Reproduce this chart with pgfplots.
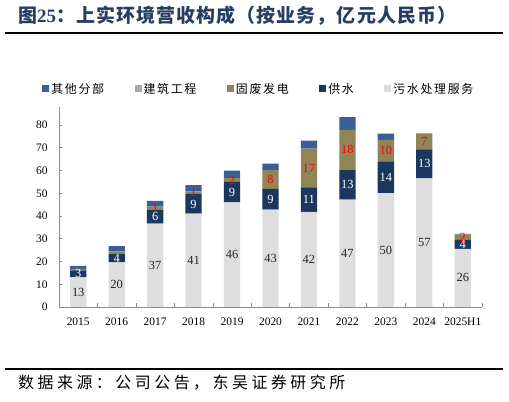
\documentclass[border=0pt]{standalone}
\usepackage{fontspec}
\setmainfont{Liberation Serif}
\newfontfamily\cjkleg[LetterSpace=14]{Noto Sans CJK SC}
\newfontfamily\cjksrc[LetterSpace=22]{Noto Sans CJK SC}
\newfontfamily\cjktitle[LetterSpace=6]{Noto Sans CJK SC}
\usepackage{pgfplots}
\usepackage{pgfplotstable}
\pgfplotsset{compat=1.18}
\definecolor{csew}{RGB}{222,222,222}
\definecolor{cwat}{RGB}{27,55,94}
\definecolor{csol}{RGB}{143,133,86}
\definecolor{ccon}{RGB}{170,170,170}
\definecolor{coth}{RGB}{58,95,150}
\definecolor{ctitle}{RGB}{36,62,100}
\definecolor{caxis}{RGB}{140,140,140}
\pgfplotstableread{
x sew wat sol con oth lsew lwat lsol
0 13.0 3.1 0.6 0 1.4 13 3 {}
1 19.6 3.9 1.0 0 2.3 20 4 {}
2 36.6 6.2 1.3 0 2.5 37 6 1
3 41.0 8.6 1.2 0 2.8 41 9 1
4 46.0 9.0 1.7 0 3.2 46 9 2
5 42.8 9.1 8.3 0 2.8 43 9 8
6 41.8 10.8 17.0 0 3.5 42 11 17
7 47.2 13.2 17.5 0 5.6 47 13 18
8 50.1 13.9 9.5 0 2.7 50 14 10
9 56.5 12.8 7.0 0 0 57 13 7
10 25.6 3.9 2.4 0 0.2 26 4 2
}\datatable
\begin{document}
\begin{tikzpicture}
\useasboundingbox (0,0) rectangle (509bp,402bp);
\node[anchor=west, inner sep=0, text=ctitle, font=\cjktitle\bfseries\fontsize{19}{21}\selectfont] at (18bp,386bp) {图{\rmfamily\bfseries 25}：上实环境营收构成（按业务，亿元人民币）};
\draw[line width=1.8bp] (5bp,369bp) -- (503bp,369bp);
\draw[line width=1.6bp] (5bp,33bp) -- (503bp,33bp);
\node[anchor=west, inner sep=0, font=\cjksrc\fontsize{16}{18}\selectfont] at (18bp,19bp) {数据来源：公司公告，东吴证券研究所};
\begin{axis}[
  at={(59bp,95bp)}, anchor=south west,
  scale only axis, width=423bp, height=200.2bp,
  ybar stacked, bar width=16.3bp,
  xmin=-0.5, xmax=10.5, ymin=0, ymax=88,
  axis x line*=bottom, axis y line*=left,
  axis line style={caxis, line width=0.8bp},
  tick style={caxis, line width=0.6bp},
  tick align=inside,
  major tick length=3.5bp,
  xtick={-0.5,0.5,...,10.5}, xticklabels={},
  extra x ticks={0,1,...,10},
  extra x tick labels={2015,2016,2017,2018,2019,2020,2021,2022,2023,2024,2025H1},
  extra x tick style={tick style={draw=none}},
  ytick={0,10,...,80},
  /pgf/number format/assume math mode=true,
  tick label style={font=\fontsize{11.5}{13}\selectfont},
  xticklabel style={yshift=-7.5bp},
  yticklabel style={xshift=-8bp},
  legend columns=5,
  reverse legend,
  legend style={at={(-0.040,1.089)}, anchor=west, draw=none, fill=none, inner sep=0pt,
    font=\cjkleg\fontsize{12}{14}\selectfont,
    /tikz/every even column/.append style={column sep=28.5bp}},
  legend image code/.code={\path[#1,draw=none] (0bp,-3.5bp) rectangle (7bp,3.5bp);},
  nodes near coords align={center},
  every node near coord/.append style={anchor=center, font=\fontsize{12.5}{14}\selectfont},
]
\addplot[fill=csew, draw=none, nodes near coords, point meta=explicit symbolic,
  every node near coord/.append style={text=black!85}]
  table[x=x,y=sew,meta=lsew]{\datatable};
\addlegendentry{污水处理服务}
\addplot[fill=cwat, draw=none, nodes near coords, point meta=explicit symbolic,
  every node near coord/.append style={text=white}]
  table[x=x,y=wat,meta=lwat]{\datatable};
\addlegendentry{供水}
\addplot[fill=csol, draw=none, nodes near coords, point meta=explicit symbolic,
  every node near coord/.append style={text=red}]
  table[x=x,y=sol,meta=lsol]{\datatable};
\addlegendentry{固废发电}
\addplot[fill=ccon, draw=none]
  table[x=x,y=con]{\datatable};
\addlegendentry{建筑工程}
\addplot[fill=coth, draw=none]
  table[x=x,y=oth]{\datatable};
\addlegendentry{其他分部}
\end{axis}
\end{tikzpicture}
\end{document}
